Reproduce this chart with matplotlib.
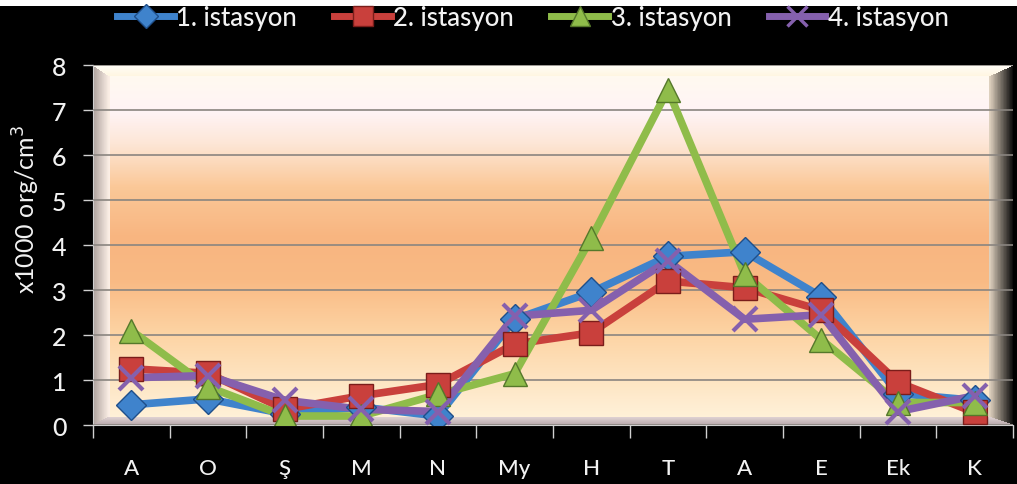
import matplotlib

matplotlib.use("Agg")

import matplotlib.pyplot as plt
import numpy as np
from matplotlib.colors import LinearSegmentedColormap
from matplotlib.lines import Line2D
from matplotlib.patches import Polygon

plt.rcParams["font.family"] = ["Lato", "DejaVu Sans"]
plt.rcParams["font.weight"] = "medium"

months = ["A", "O", "Ş", "M", "N", "My", "H", "T", "A", "E", "Ek", "K"]
station_names = ["1. istasyon", "2. istasyon", "3. istasyon", "4. istasyon"]
st1 = [0.45, 0.58, 0.25, 0.40, 0.20, 2.35, 2.95, 3.75, 3.85, 2.85, 0.70, 0.55]
st2 = [1.25, 1.15, 0.35, 0.65, 0.90, 1.80, 2.05, 3.20, 3.05, 2.55, 0.95, 0.28]
st3 = [2.10, 0.85, 0.20, 0.20, 0.68, 1.14, 4.15, 7.45, 3.35, 1.90, 0.50, 0.50]
st4 = [1.05, 1.10, 0.55, 0.35, 0.30, 2.42, 2.55, 3.65, 2.35, 2.45, 0.30, 0.65]
y_ticks = [0, 1, 2, 3, 4, 5, 6, 7, 8]

colors = ["#3f83cc", "#c9403c", "#8fbc4a", "#8560ad"]
edges = ["#1f4f8a", "#7a1d1a", "#55782a", "#5a3d80"]
markers = ["D", "s", "^", "x"]
sizes = [15, 17, 17, 17]

fig = plt.figure(figsize=(10.17, 4.85), dpi=100, facecolor="black")
ax = fig.add_axes([0.0914, 0.1216, 0.9046, 0.7423])
ax.set_facecolor("black")
x = np.arange(len(months))
ax.set_xlim(-0.5, len(months) - 0.5)
ax.set_ylim(0, 8)

# back wall gradient: cream bottom, orange middle, pinkish white, cream top
wall = LinearSegmentedColormap.from_list(
    "wall",
    [(0.0, "#fff3dc"), (0.08, "#feeacc"), (0.25, "#fdd4a4"), (0.40, "#f9ba84"),
     (0.52, "#f8b580"), (0.66, "#fbc898"), (0.78, "#fde6d6"), (0.87, "#fff4f6"),
     (1.0, "#fffbee")],
)
grad = np.linspace(0, 1, 256).reshape(-1, 1)
ax.imshow(grad, cmap=wall, origin="lower", aspect="auto",
          extent=(-0.5, len(months) - 0.5, 0, 8), zorder=0)


def bevel(points, c_from, c_to, n=40):
    # bevel strip built from thin gradient bands, outer edge to inner edge
    cmap = LinearSegmentedColormap.from_list("b", [c_from, c_to])
    (x0, y0), (x1, y1), (x2, y2), (x3, y3) = points
    for i in range(n):
        t0, t1 = i / n, (i + 1) / n
        quad = [(x0 + (x1 - x0) * t0, y0 + (y1 - y0) * t0),
                (x0 + (x1 - x0) * t1, y0 + (y1 - y0) * t1),
                (x3 + (x2 - x3) * t1, y3 + (y2 - y3) * t1),
                (x3 + (x2 - x3) * t0, y3 + (y2 - y3) * t0)]
        ax.add_patch(Polygon(quad, closed=True, transform=ax.transAxes,
                             facecolor=cmap((t0 + t1) / 2), edgecolor="none",
                             antialiased=False, zorder=1))


bl, br, bt, bb = 0.018, 0.026, 0.03, 0.022
bevel([(0, 0), (bl, bb), (bl, 1 - bt), (0, 1)], "#a89c98", "#fcefe6")
bevel([(1, 0), (1 - br, bb), (1 - br, 1 - bt), (1, 1)], "#050505", "#e0d2c0")
bevel([(0, 1), (bl, 1 - bt), (1 - br, 1 - bt), (1, 1)], "#fffef9", "#fff6e2")
bevel([(0, 0), (bl, bb), (1 - br, bb), (1, 0)], "#b4a4a8", "#ddd0d0")

ax.set_yticks(y_ticks)
ax.set_xticks(x)
ax.set_xticks(np.arange(len(months) + 1) - 0.5, minor=True)
ax.grid(axis="y", color="#8a8580", linewidth=1.2, zorder=2)
ax.set_axisbelow(False)
ax.tick_params(axis="x", which="major", length=0, pad=24, labelsize=16,
               colors="#f2f2f2")
ax.tick_params(axis="x", which="minor", length=9, width=1, color="#d0d0d0")
ax.tick_params(axis="y", length=7, width=1, color="#d0d0d0", labelsize=18,
               labelcolor="#f2f2f2", pad=12)
ax.set_xticklabels(months)
for side in ["top", "right"]:
    ax.spines[side].set_visible(False)
ax.spines["left"].set_color("#d0d0d0")
ax.spines["bottom"].set_color("#d0d0d0")
ax.set_ylabel("x1000 org/cm$^3$", color="#f2f2f2", fontsize=18)
ax.yaxis.set_label_coords(-0.055, 0.6)

handles = []
for vals, name, col, edge, mk, ms in zip([st1, st2, st3, st4], station_names,
                                         colors, edges, markers, sizes):
    ax.plot(x, vals, color=col, linewidth=5.5, zorder=5,
            solid_joinstyle="round")
    if mk == "x":
        ax.plot(x, vals, linestyle="none", marker=mk, markersize=ms,
                markeredgecolor=col, markeredgewidth=3, zorder=6)
    else:
        ax.plot(x, vals, linestyle="none", marker=mk, markersize=ms,
                markerfacecolor=col, markeredgecolor=edge,
                markeredgewidth=1, zorder=6)
    handles.append(Line2D([], [], color=col, linewidth=5, marker=mk,
                          markersize=ms - 3, markerfacecolor=col,
                          markeredgecolor=edge if mk != "x" else col,
                          markeredgewidth=1 if mk != "x" else 2.5, label=name))

fig.legend(handles=handles, loc="upper center", bbox_to_anchor=(0.524, 1.025),
           ncol=4, frameon=False, fontsize=18.5, labelcolor="#f2f2f2",
           handlelength=2.2, handletextpad=0.1, columnspacing=1.45,
           borderaxespad=0.3)

# thin white strip along the top edge
fig.add_artist(plt.Rectangle((0, 0.986), 1, 0.014, transform=fig.transFigure,
                             facecolor="white", edgecolor="none", zorder=-1))

fig.savefig("out.png", dpi=100, facecolor="black")
plt.close(fig)
